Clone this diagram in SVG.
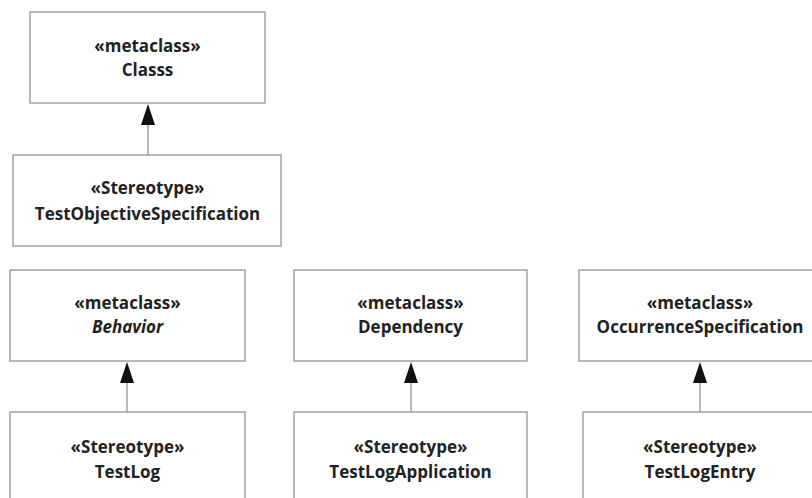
<svg xmlns="http://www.w3.org/2000/svg" width="812" height="498" viewBox="0 0 812 498">
  <style>
    .box { fill: #ffffff; stroke: #a0a0a0; stroke-width: 1.5; }
    .lbl { font-family: "Open Sans", "Liberation Sans", sans-serif; font-weight: 700; font-size: 17px; fill: #222222; text-anchor: middle; }
    .it { font-style: italic; }
    .edge { stroke: #8a8a8a; stroke-width: 1.2; fill: none; }
    .head { fill: #111111; stroke: none; }
  </style>
  <rect x="0" y="0" width="812" height="498" fill="#ffffff"/>

  <g id="classs">
    <rect class="box" x="30" y="12" width="235" height="91"/>
    <text class="lbl" x="147.5" y="52">«metaclass»</text>
    <text class="lbl" x="147.5" y="76">Classs</text>
  </g>
  <g id="testObjectiveSpecification">
    <rect class="box" x="13" y="155" width="268" height="91"/>
    <text class="lbl" x="147.5" y="194">«Stereotype»</text>
    <text class="lbl" x="147.5" y="220">TestObjectiveSpecification</text>
  </g>

  <g id="behavior">
    <rect class="box" x="10" y="270" width="235" height="91"/>
    <text class="lbl" x="127.5" y="309">«metaclass»</text>
    <text class="lbl it" x="127.5" y="333">Behavior</text>
  </g>
  <g id="testLog">
    <rect class="box" x="10" y="412" width="235" height="100"/>
    <text class="lbl" x="127.5" y="453">«Stereotype»</text>
    <text class="lbl" x="127.5" y="478">TestLog</text>
  </g>

  <g id="dependency">
    <rect class="box" x="294" y="270" width="233" height="91"/>
    <text class="lbl" x="410.5" y="309">«metaclass»</text>
    <text class="lbl" x="410.5" y="333">Dependency</text>
  </g>
  <g id="testLogApplication">
    <rect class="box" x="294" y="412" width="233" height="100"/>
    <text class="lbl" x="410.5" y="453">«Stereotype»</text>
    <text class="lbl" x="410.5" y="478">TestLogApplication</text>
  </g>

  <g id="occurrenceSpecification">
    <rect class="box" x="579" y="270" width="242" height="91"/>
    <text class="lbl" x="700" y="309">«metaclass»</text>
    <text class="lbl" x="700" y="333">OccurrenceSpecification</text>
  </g>
  <g id="testLogEntry">
    <rect class="box" x="583" y="412" width="240" height="100"/>
    <text class="lbl" x="700" y="453">«Stereotype»</text>
    <text class="lbl" x="700" y="478">TestLogEntry</text>
  </g>

  <g id="connectors">
    <line class="edge" x1="148" y1="155" x2="148" y2="124"/>
    <polygon class="head" points="148,104 141,125 155,125"/>
    <line class="edge" x1="127" y1="412" x2="127" y2="382"/>
    <polygon class="head" points="127,362 120,383 134,383"/>
    <line class="edge" x1="411" y1="412" x2="411" y2="382"/>
    <polygon class="head" points="411,362 404,383 418,383"/>
    <line class="edge" x1="700" y1="412" x2="700" y2="382"/>
    <polygon class="head" points="700,362 693,383 707,383"/>
  </g>
</svg>
